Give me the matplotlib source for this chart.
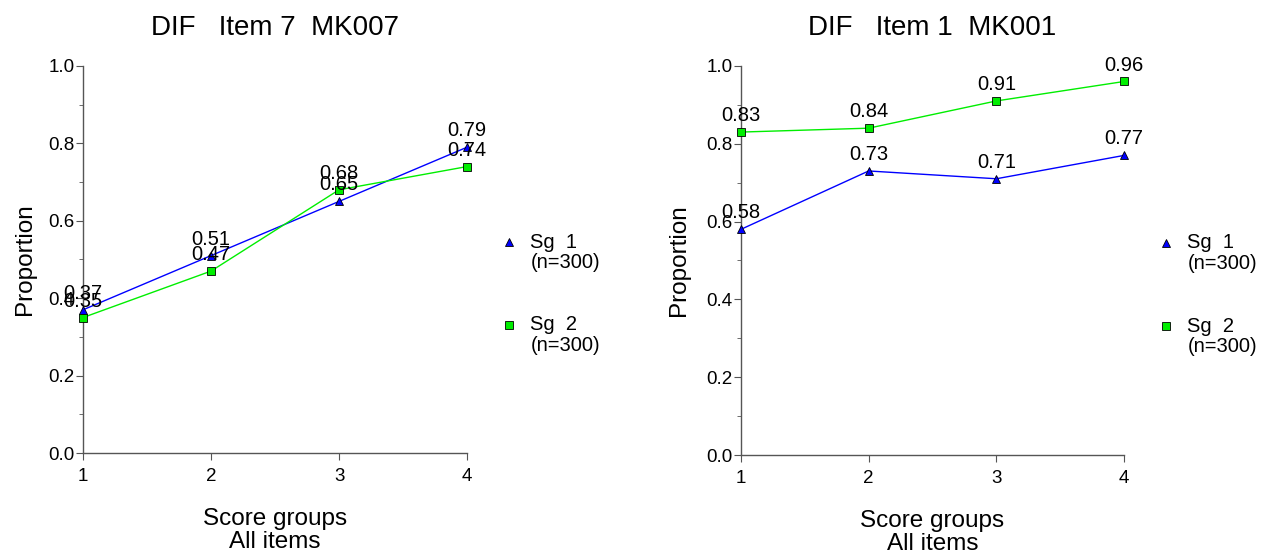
import matplotlib
matplotlib.use('Agg')
import matplotlib.pyplot as plt
from matplotlib.ticker import MultipleLocator

plt.rcParams['font.family'] = ['Liberation Sans', 'DejaVu Sans']

groups = [1, 2, 3, 4]
titles = ['DIF   Item 7  MK007', 'DIF   Item 1  MK001']
sg1_item7 = [0.37, 0.51, 0.65, 0.79]
sg2_item7 = [0.35, 0.47, 0.68, 0.74]
sg1_item1 = [0.58, 0.73, 0.71, 0.77]
sg2_item1 = [0.83, 0.84, 0.91, 0.96]
legend_labels = ['Sg  1', 'Sg  2']
legend_n = ['(n=300)', '(n=300)']

blue = '#0000ff'
green = '#00ee00'


def draw_panel(ax, title, sg1, sg2, ypad):
    ax.plot(groups, sg1, color=blue, lw=1, marker='^', ms=6,
            mfc=blue, mec='black', mew=0.6, clip_on=False, zorder=3)
    ax.plot(groups, sg2, color=green, lw=1, marker='s', ms=6,
            mfc=green, mec='black', mew=0.6, clip_on=False, zorder=4)
    for vals in (sg1, sg2):
        for x, v in zip(groups, vals):
            ax.annotate('%.2f' % v, (x, v), xytext=(0, 5),
                        textcoords='offset points', ha='center', va='bottom',
                        fontsize=14.5, zorder=5)
    ax.set_xlim(1, 4)
    ax.set_ylim(0, 1)
    ax.set_xticks(groups)
    ax.yaxis.set_major_locator(MultipleLocator(0.2))
    ax.yaxis.set_minor_locator(MultipleLocator(0.1))
    ax.set_yticklabels(['%.1f' % t for t in ax.get_yticks()])
    for s in ('top', 'right'):
        ax.spines[s].set_visible(False)
    for s in ('left', 'bottom'):
        ax.spines[s].set_color('#555555')
        ax.spines[s].set_linewidth(1)
    ax.tick_params(which='major', length=5, color='#555555', labelsize=13.5,
                   pad=1)
    ax.tick_params(which='minor', length=3, color='#555555')
    ax.tick_params(axis='x', pad=6)
    ax.set_title(title, fontsize=20, pad=22)
    ax.set_ylabel('Proportion', fontsize=17.5, labelpad=ypad)
    ax.set_xlabel('Score groups\nAll items', fontsize=17.5, labelpad=16,
                  linespacing=1.1)

    # legend drawn beside the axes
    ys = [0.545, 0.331]
    markers = [('^', blue), ('s', green)]
    for (m, c), y, lab, n in zip(markers, ys, legend_labels, legend_n):
        ax.plot([1.109], [y], marker=m, ms=6, mfc=c, mec='black', mew=0.6,
                ls='none', transform=ax.transAxes, clip_on=False)
        ax.text(1.165, y, lab, transform=ax.transAxes, fontsize=14.5,
                va='center', ha='left')
        ax.text(1.167, y - 0.053, n, transform=ax.transAxes, fontsize=14.5,
                va='center', ha='left')


fig = plt.figure(figsize=(12.74, 5.54), dpi=100)
ax1 = fig.add_axes([0.0652, 0.1823, 0.3014, 0.6987])
ax2 = fig.add_axes([0.5816, 0.1787, 0.3007, 0.7023])
draw_panel(ax1, titles[0], sg1_item7, sg2_item7, 9)
draw_panel(ax2, titles[1], sg1_item1, sg2_item1, 12)

fig.savefig('out.png', dpi=100)
